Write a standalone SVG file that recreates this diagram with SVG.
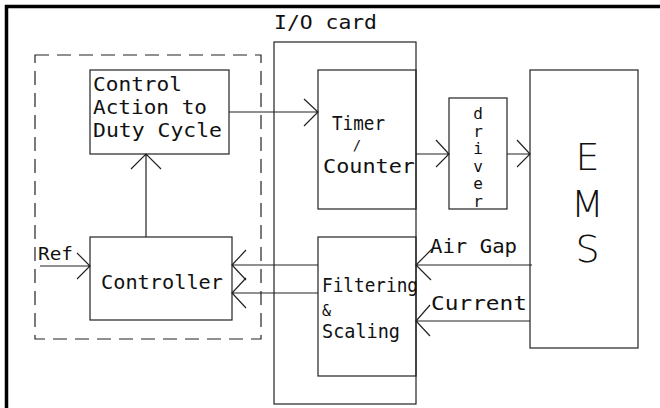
<svg xmlns="http://www.w3.org/2000/svg" width="660" height="408" viewBox="0 0 660 408">
<style>
.box{fill:none;stroke:#222;stroke-width:1.2}
.ln{fill:none;stroke:#222;stroke-width:1.2}
.t{font-family:"DejaVu Sans Mono","Liberation Mono",monospace;font-size:20px;fill:#111}
.big{font-family:"DejaVu Sans","Liberation Sans",sans-serif;font-weight:200;font-size:38px;fill:#111;text-anchor:middle}
.vt{font-family:"DejaVu Sans Mono","Liberation Mono",monospace;font-size:16px;letter-spacing:-1.4px;fill:#111;writing-mode:vertical-rl;text-orientation:upright}
</style>
<rect width="660" height="408" fill="#fff"/>
<g id="frame">
<path d="M6.5,408 V6.5 H660" fill="none" stroke="#000" stroke-width="3.5"/>
</g>
<g id="controller-group">
<rect x="35" y="55" width="226" height="284" fill="none" stroke="#222" stroke-width="1.2" stroke-dasharray="14 8"/>
</g>
<g id="io-card">
<rect class="box" x="274" y="42" width="142" height="362"/>
<text class="t" x="274" y="29" textLength="103" lengthAdjust="spacingAndGlyphs">I/O card</text>
</g>
<g id="control-action">
<rect class="box" x="90" y="70" width="139" height="84"/>
<text class="t" x="93" y="91" textLength="89" lengthAdjust="spacingAndGlyphs">Control</text>
<text class="t" x="93" y="114" textLength="114" lengthAdjust="spacingAndGlyphs">Action to</text>
<text class="t" x="93" y="137" textLength="129" lengthAdjust="spacingAndGlyphs">Duty Cycle</text>
</g>
<g id="controller">
<rect class="box" x="90" y="237" width="142" height="83"/>
<text class="t" x="101" y="289" textLength="122" lengthAdjust="spacingAndGlyphs">Controller</text>
</g>
<g id="timer">
<rect class="box" x="318" y="70" width="98" height="139"/>
<text class="t" x="332" y="130" textLength="53" lengthAdjust="spacingAndGlyphs">Timer</text>
<text class="t" x="357" y="150" text-anchor="middle" style="font-size:14px">/</text>
<text class="t" x="323" y="173" textLength="92" lengthAdjust="spacingAndGlyphs">Counter</text>
</g>
<g id="filtering">
<rect class="box" x="318" y="237" width="98" height="139"/>
<text class="t" x="322" y="292" textLength="96" lengthAdjust="spacingAndGlyphs">Filtering</text>
<text class="t" x="322" y="315.5" style="font-size:15px">&amp;</text>
<text class="t" x="322" y="338" textLength="78" lengthAdjust="spacingAndGlyphs">Scaling</text>
</g>
<g id="driver">
<rect class="box" x="449" y="98" width="58" height="111"/>
<text class="vt" x="478" y="104">driver</text>
</g>
<g id="ems">
<rect class="box" x="530" y="70" width="108" height="278"/>
<text class="big" x="587.5" y="170">E</text>
<text class="big" x="587.5" y="217">M</text>
<text class="big" x="587.5" y="262">S</text>
</g>
<g id="connectors">
<path class="ln" d="M146,237 V154 M131,169 L146,154 L161,169"/>
<path class="ln" d="M229,112 H318 M304,99 L318,112 L304,126"/>
<path class="ln" d="M416,154 H449 M436,140 L449,154 L436,167"/>
<path class="ln" d="M507,154 H530 M517,140 L530,154 L517,167"/>
<path class="ln" d="M40,266 H90 M77,253 L90,266 L77,279"/>
<path class="ln" d="M318,265 H232 M246,250 L232,265 L246,280"/>
<path class="ln" d="M318,293 H232 M246,278 L232,293 L246,308"/>
<path class="ln" d="M532,265 H416 M432,249 L416,265 L431,280"/>
<path class="ln" d="M530,321 H416 M430,305 L416,321 L430,336"/>
<text class="t" x="38" y="260" textLength="35" lengthAdjust="spacingAndGlyphs" style="font-size:18px">Ref</text>
<text class="t" x="430" y="253" textLength="87" lengthAdjust="spacingAndGlyphs">Air Gap</text>
<text class="t" x="431" y="310" textLength="96" lengthAdjust="spacingAndGlyphs">Current</text>
</g>
</svg>
